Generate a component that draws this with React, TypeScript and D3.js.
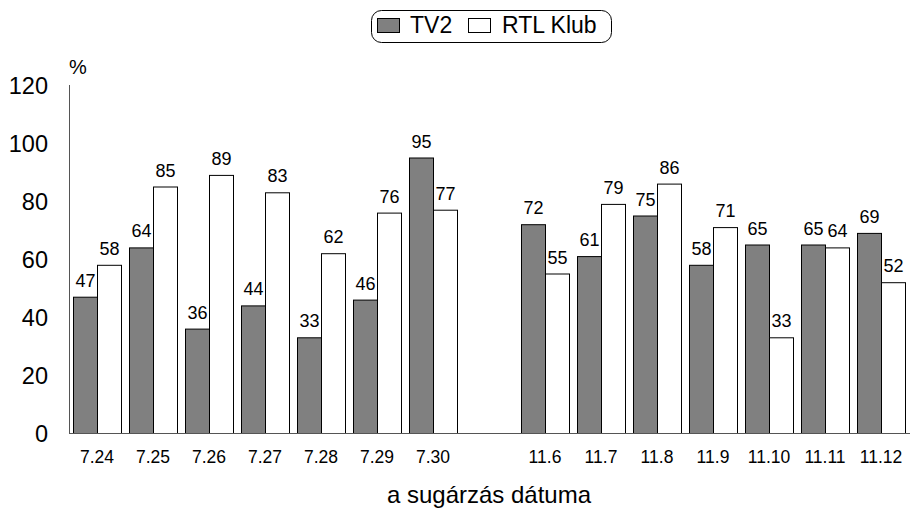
import React from "react";
import * as d3 from "d3";

const categories = ["7.24", "7.25", "7.26", "7.27", "7.28", "7.29", "7.30", "", "11.6", "11.7", "11.8", "11.9", "11.10", "11.11", "11.12"];
const tv2: (number | null)[] = [47, 64, 36, 44, 33, 46, 95, null, 72, 61, 75, 58, 65, 65, 69];
const rtl: (number | null)[] = [58, 85, 89, 83, 62, 76, 77, null, 55, 79, 86, 71, 33, 64, 52];
const yTicks = [0, 20, 40, 60, 80, 100, 120];
const seriesNames = ["TV2", "RTL Klub"];
const seriesColors = ["#808080", "#ffffff"];

export default function App() {
  const W = 911, H = 512;
  const x = d3.scaleBand<string>().domain(categories.map((c, i) => i + "")).range([69, 909]).paddingInner(8 / 56).paddingOuter(4 / 56);
  const y = d3.scaleLinear().domain([0, 120]).range([433, 85]);
  const bw = x.bandwidth() / 2;
  const font = "Arial, 'Liberation Sans', sans-serif";
  const series = [tv2, rtl];
  return (
    <svg width={W} height={H} style={{ position: "absolute", left: 0, top: 0, fontFamily: font }}>
      <rect width={W} height={H} fill="#fff" />
      {/* legend */}
      <rect x={371.5} y={10.5} width={240} height={32} rx={10} fill="#fff" stroke="#000" strokeWidth={1} />
      <rect x={377.5} y={18.5} width={22} height={14} fill={seriesColors[0]} stroke="#000" />
      <text x={410} y={33} fontSize={23}>{seriesNames[0]}</text>
      <rect x={468.5} y={18.5} width={22} height={14} fill={seriesColors[1]} stroke="#000" />
      <text x={502} y={33} fontSize={23}>{seriesNames[1]}</text>
      {/* y axis */}
      <line x1={69.5} x2={69.5} y1={85} y2={433} stroke="#555" />
      {yTicks.map(t => (
        <text key={t} x={48} y={y(t) + 8.5} fontSize={23.5} textAnchor="end">{t}</text>
      ))}
      <text x={69} y={74} fontSize={20}>%</text>
      {/* bars */}
      {categories.map((c, i) => (
        <g key={i}>
          {series.map((s, k) => {
            const v = s[i];
            if (v == null) return null;
            const bx = (x(i + "") as number) + k * bw;
            return (
              <g key={k}>
                <rect x={bx + 0.5} y={y(v) + 0.5} width={bw} height={433 - y(v)} fill={seriesColors[k]} stroke="#000" strokeWidth={1} />
                <text x={bx + bw / 2 + 0.5} y={y(v) - 10} fontSize={18} textAnchor="middle">{v}</text>
              </g>
            );
          })}
          <text x={(x(i + "") as number) + x.bandwidth() / 2} y={463} fontSize={17.5} textAnchor="middle">{c}</text>
        </g>
      ))}
      <line x1={69} x2={910} y1={433.5} y2={433.5} stroke="#555" />
      <text x={489} y={503} fontSize={24} textAnchor="middle">a sugárzás dátuma</text>
    </svg>
  );
}
